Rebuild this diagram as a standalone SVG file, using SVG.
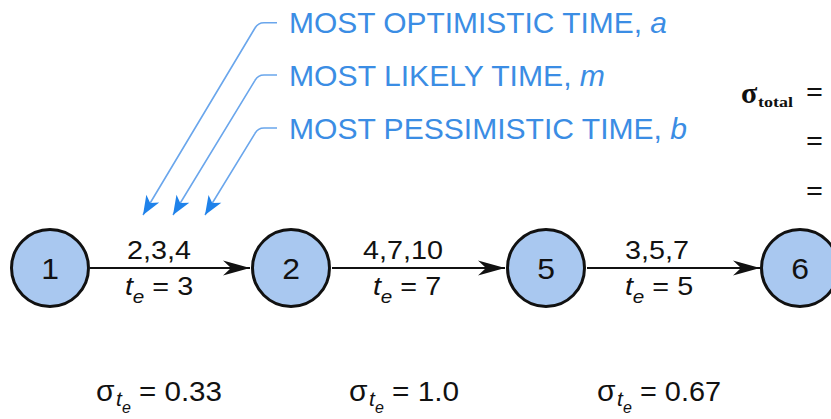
<svg xmlns="http://www.w3.org/2000/svg" width="831" height="419" viewBox="0 0 831 419">
<style>
.node{fill:#a9c8f0;stroke:#111;stroke-width:3}
.nlabel{font-family:"Liberation Sans",Arial,sans-serif;font-size:29px;fill:#111;text-anchor:middle}
.elabel{font-family:"Liberation Sans",Arial,sans-serif;font-size:25px;fill:#111}
.sig{font-family:"Liberation Sans",Arial,sans-serif;font-size:28px;fill:#111}
.blue{font-family:"Liberation Sans",Arial,sans-serif;font-size:30px;fill:#3b8de4}
.edge{stroke:#111;stroke-width:2;fill:none}
.leader{stroke:#6aa6ec;stroke-width:1.6;fill:none}
.serif{font-family:"Liberation Serif","Times New Roman",serif;font-weight:bold;fill:#111}
</style>
<defs>
<marker id="ah" markerUnits="userSpaceOnUse" markerWidth="30" markerHeight="18" viewBox="-28 -9 30 18" refX="0" refY="0" orient="auto">
<path d="M0,0 L-27,-7.5 L-19,0 L-27,7.5 Z" fill="#111"/>
</marker>
<marker id="bh" markerUnits="userSpaceOnUse" markerWidth="22" markerHeight="18" viewBox="-20 -9 22 18" refX="0" refY="0" orient="auto">
<path d="M0,0 L-19,-7.5 L-14,0 L-19,7.5 Z" fill="#1f82ea"/>
</marker>
</defs>

<g id="connectors">
<line class="edge" x1="90" y1="268" x2="250" y2="268" marker-end="url(#ah)"/>
<line class="edge" x1="332" y1="268" x2="505" y2="268" marker-end="url(#ah)"/>
<line class="edge" x1="587" y1="268" x2="760" y2="268" marker-end="url(#ah)"/>
<path class="leader" d="M277,22.7 H264 Q258,22.7 255,28 L143,215" marker-end="url(#bh)"/>
<path class="leader" d="M277,75 H264 Q258,75 255,80.3 L173,215" marker-end="url(#bh)"/>
<path class="leader" d="M277,128 H264 Q258,128 255,133.3 L205,215" marker-end="url(#bh)"/>
</g>

<g id="node1"><circle class="node" cx="50" cy="268" r="38.5"/><text class="nlabel" transform="translate(50,278.5) scale(1.1,1)">1</text></g>
<g id="node2"><circle class="node" cx="291" cy="268" r="38.5"/><text class="nlabel" transform="translate(291,278.5) scale(1.1,1)">2</text></g>
<g id="node5"><circle class="node" cx="546" cy="268" r="38.5"/><text class="nlabel" transform="translate(546,278.5) scale(1.1,1)">5</text></g>
<g id="node6"><circle class="node" cx="800" cy="268" r="38.5"/><text class="nlabel" transform="translate(800,278.5) scale(1.1,1)">6</text></g>

<g id="edge-labels">
<text class="elabel" text-anchor="middle" transform="translate(159,259) scale(1.15,1)">2,3,4</text>
<text class="elabel" text-anchor="middle" transform="translate(159,295) scale(1.15,1)"><tspan font-style="italic">t</tspan><tspan font-style="italic" font-size="18" dy="8">e</tspan><tspan dy="-8"> = 3</tspan></text>
<text class="elabel" text-anchor="middle" transform="translate(403,259) scale(1.15,1)">4,7,10</text>
<text class="elabel" text-anchor="middle" transform="translate(407,295) scale(1.15,1)"><tspan font-style="italic">t</tspan><tspan font-style="italic" font-size="18" dy="8">e</tspan><tspan dy="-8"> = 7</tspan></text>
<text class="elabel" text-anchor="middle" transform="translate(657,259) scale(1.15,1)">3,5,7</text>
<text class="elabel" text-anchor="middle" transform="translate(659,295) scale(1.15,1)"><tspan font-style="italic">t</tspan><tspan font-style="italic" font-size="18" dy="8">e</tspan><tspan dy="-8"> = 5</tspan></text>
</g>

<g id="sigmas">
<text class="sig"><tspan x="96" y="401" font-size="30">σ</tspan><tspan x="116" y="406" font-size="21" font-style="italic">t</tspan><tspan x="122" y="413" font-size="16" font-style="italic">e</tspan><tspan x="139" y="401" textLength="83" lengthAdjust="spacingAndGlyphs">= 0.33</tspan></text>
<text class="sig"><tspan x="349" y="401" font-size="30">σ</tspan><tspan x="369" y="406" font-size="21" font-style="italic">t</tspan><tspan x="375" y="413" font-size="16" font-style="italic">e</tspan><tspan x="392" y="401" textLength="67" lengthAdjust="spacingAndGlyphs">= 1.0</tspan></text>
<text class="sig"><tspan x="597" y="401" font-size="30">σ</tspan><tspan x="617" y="406" font-size="21" font-style="italic">t</tspan><tspan x="623" y="413" font-size="16" font-style="italic">e</tspan><tspan x="640" y="401" textLength="81" lengthAdjust="spacingAndGlyphs">= 0.67</tspan></text>
</g>

<g id="blue-labels">
<text class="blue" x="289" y="33" textLength="378" lengthAdjust="spacingAndGlyphs">MOST OPTIMISTIC TIME, <tspan font-style="italic">a</tspan></text>
<text class="blue" x="289" y="86" textLength="316" lengthAdjust="spacingAndGlyphs">MOST LIKELY TIME, <tspan font-style="italic">m</tspan></text>
<text class="blue" x="289" y="138.5" textLength="398" lengthAdjust="spacingAndGlyphs">MOST PESSIMISTIC TIME, <tspan font-style="italic">b</tspan></text>
</g>

<g id="sigma-total">
<text class="serif" x="741" y="103" font-size="30">σ</text>
<text class="serif" x="758" y="107" font-size="14" font-weight="normal" textLength="35" lengthAdjust="spacingAndGlyphs">total</text>
<text class="serif" x="806" y="102" font-size="30">=</text>
<text class="serif" x="806" y="151" font-size="30">=</text>
<text class="serif" x="806" y="201" font-size="30">=</text>
</g>
</svg>
